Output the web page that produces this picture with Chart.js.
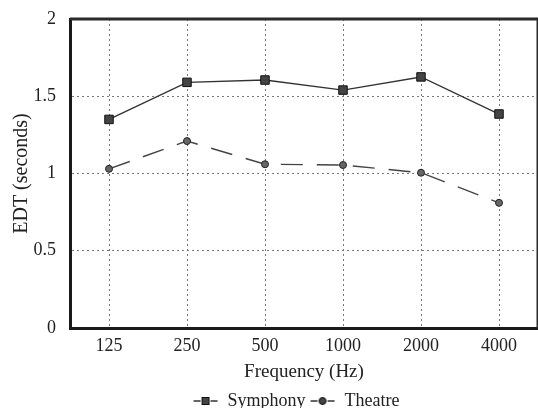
<!DOCTYPE html>
<html>
<head>
<meta charset="utf-8">
<script src="https://cdn.jsdelivr.net/npm/chart.js@4"></script>
<style>
  html, body { margin: 0; padding: 0; background: #fff; }
  #wrap { width: 538px; height: 408px; }
</style>
</head>
<body>
<div id="wrap"><canvas id="edtChart" width="538" height="408"></canvas></div>
<script>
// values
var frequencies = ['125', '250', '500', '1000', '2000', '4000'];
var symphony = [1.35, 1.59, 1.605, 1.54, 1.625, 1.385];
var theatre = [1.03, 1.21, 1.06, 1.055, 1.005, 0.81];
var yTicks = [0, 0.5, 1, 1.5, 2];

var ink = '#222';
var serif = "'Liberation Serif', 'DejaVu Serif', serif";

// little "-marker-" pictures for the legend
function legendIcon(style) {
    var c = document.createElement('canvas');
    c.width = 26; c.height = 12;
    var g = c.getContext('2d');
    g.strokeStyle = '#333';
    g.lineWidth = 1.3;
    g.beginPath(); g.moveTo(1, 6); g.lineTo(8, 6); g.moveTo(18, 6); g.lineTo(25, 6); g.stroke();
    g.fillStyle = '#444';
    g.strokeStyle = '#111';
    g.lineWidth = 1;
    if (style === 'rect') {
        g.fillRect(9.5, 2.5, 7, 7); g.strokeRect(9.5, 2.5, 7, 7);
    } else {
        g.beginPath(); g.arc(13, 6, 3.5, 0, Math.PI * 2); g.fill(); g.stroke();
    }
    return c;
}
var icons = [legendIcon('rect'), legendIcon('circle')];

const frame = {
    id: 'frame',
    afterLayout(chart) {
        // nudge the legend to where the original has it
        chart.legend.left -= 8;
        chart.legend.right -= 8;
        chart.legend.top += 11;
        chart.legend.bottom += 11;
    },
    afterDraw(chart) {
        const { ctx, chartArea: a } = chart;
        ctx.save();
        ctx.strokeStyle = '#2a2a2a';
        ctx.lineWidth = 3;
        ctx.beginPath();
        ctx.moveTo(a.left, a.top);
        ctx.lineTo(a.right, a.top);
        ctx.lineTo(a.right, a.bottom);
        ctx.stroke();
        ctx.restore();
    }
};

var ctx = document.getElementById('edtChart').getContext('2d');
var chart = new Chart(ctx, {
    type: 'line',
    data: {
        labels: frequencies,
        datasets: [{
            label: 'Symphony',
            data: symphony,
            borderColor: '#333',
            borderWidth: 1.4,
            pointStyle: 'rect',
            pointRadius: 6,
            pointBackgroundColor: '#444',
            pointBorderColor: '#111',
            pointBorderWidth: 1
        }, {
            label: 'Theatre',
            data: theatre,
            borderColor: '#444',
            borderWidth: 1.4,
            borderDash: [22, 14],
            pointStyle: 'circle',
            pointRadius: 3.5,
            pointBackgroundColor: '#666',
            pointBorderColor: '#222',
            pointBorderWidth: 1
        }]
    },
    options: {
        responsive: false,
        animation: false,
        layout: { autoPadding: false, padding: { top: 19, right: 0, bottom: -1, left: 0 } },
        plugins: {
            tooltip: { enabled: false },
            legend: {
                position: 'bottom',
                fullSize: false,
                labels: {
                    usePointStyle: true,
                    pointStyleWidth: 26,
                    color: ink,
                    font: { family: serif, size: 18 },
                    padding: 4,
                    generateLabels: function(ch) {
                        return ch.data.datasets.map(function(ds, i) {
                            return { text: ds.label, pointStyle: icons[i], datasetIndex: i, fontColor: ink, lineWidth: 0, strokeStyle: 'transparent', fillStyle: 'transparent' };
                        });
                    }
                }
            }
        },
        scales: {
            x: {
                offset: true,
                afterFit: function(s) { s.height = 49; s.paddingLeft = 0; s.paddingRight = 0; },
                grid: { color: '#777', lineWidth: 1, drawTicks: false },
                border: { display: true, color: '#1a1a1a', width: 3, dash: [2, 3] },
                ticks: { color: ink, font: { family: serif, size: 18 }, padding: 7 },
                title: { display: true, text: 'Frequency (Hz)', color: ink, font: { family: serif, size: 19 }, padding: { top: 0, bottom: -6 } }
            },
            y: {
                min: 0,
                max: 2,
                afterFit: function(s) { s.width = 70; s.paddingTop = 0; s.paddingBottom = 0; },
                afterBuildTicks: function(s) { s.ticks = yTicks.map(function(v) { return { value: v }; }); },
                grid: { color: '#777', lineWidth: 1, drawTicks: false },
                border: { display: true, color: '#1a1a1a', width: 3, dash: [2, 3] },
                ticks: {
                    color: ink, font: { family: serif, size: 18 }, padding: 14,
                    callback: function(v) { return String(v); }
                },
                title: { display: true, text: 'EDT (seconds)', color: ink, font: { family: serif, size: 20 }, padding: { top: 10, bottom: 0 } }
            }
        }
    },
    plugins: [frame]
});
</script>
</body>
</html>
